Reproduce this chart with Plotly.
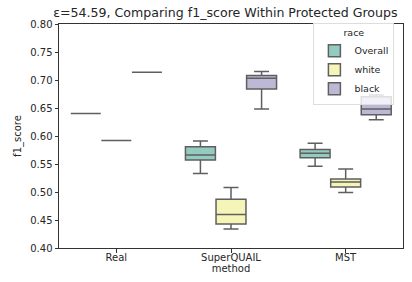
import plotly.graph_objects as go

methods = ["Real", "SuperQUAIL", "MST"]
races = ["Overall", "white", "black"]

# per race: lower whisker, q1, median, q3, upper whisker (per method)
overall_lo = [0.640, 0.533, 0.546]
overall_q1 = [0.640, 0.557, 0.561]
overall_med = [0.640, 0.566, 0.569]
overall_q3 = [0.640, 0.581, 0.576]
overall_hi = [0.640, 0.591, 0.587]

white_lo = [0.592, 0.434, 0.499]
white_q1 = [0.592, 0.443, 0.509]
white_med = [0.592, 0.460, 0.518]
white_q3 = [0.592, 0.487, 0.523]
white_hi = [0.592, 0.508, 0.541]

black_lo = [0.714, 0.648, 0.629]
black_q1 = [0.714, 0.684, 0.638]
black_med = [0.714, 0.703, 0.648]
black_q3 = [0.714, 0.708, 0.670]
black_hi = [0.714, 0.715, 0.673]

colors = ["#94cbc0", "#f6f5b9", "#bdb9d5"]
stats = [
    (overall_lo, overall_q1, overall_med, overall_q3, overall_hi),
    (white_lo, white_q1, white_med, white_q3, white_hi),
    (black_lo, black_q1, black_med, black_q3, black_hi),
]

fig = go.Figure()
for race, col, (lo, q1, med, q3, hi) in zip(races, colors, stats):
    fig.add_trace(go.Box(
        name=race, x=methods, q1=q1, median=med, q3=q3,
        lowerfence=lo, upperfence=hi,
        fillcolor=col, line=dict(color="#5f5f5f", width=1.5),
        whiskerwidth=0.5, boxpoints=False,
    ))

font = "DejaVu Sans, Arial, sans-serif"
fig.update_layout(
    width=412, height=282,
    margin=dict(l=59, r=9, t=24, b=34),
    paper_bgcolor="white", plot_bgcolor="white",
    boxmode="group", boxgap=0.2, boxgroupgap=0.02,
    font=dict(family=font, size=10, color="#262626"),
    title=dict(text="ε=54.59, Comparing f1_score Within Protected Groups",
               x=0.547, xanchor="center", y=0.957, yanchor="middle",
               font=dict(size=12.6, color="#262626")),
    legend=dict(title=dict(text="race", side="top center", font=dict(size=9.5)),
                x=0.975, y=1.005, xanchor="right", yanchor="top",
                bgcolor="rgba(255,255,255,0.8)", bordercolor="#dddddd", borderwidth=1,
                font=dict(size=9.5), tracegroupgap=0, itemwidth=30),
    showlegend=True,
)
fig.update_xaxes(title=dict(text="method", standoff=0, font=dict(size=10)),
                 showline=True, mirror=True, linecolor="#333333", linewidth=1,
                 ticks="outside", ticklen=3.5, tickcolor="#333333",
                 ticklabelstandoff=-4,
                 showgrid=False, zeroline=False)
fig.update_yaxes(title=dict(text="f1_score", standoff=6, font=dict(size=10)),
                 range=[0.40, 0.80], tickvals=[0.40, 0.45, 0.50, 0.55, 0.60, 0.65, 0.70, 0.75, 0.80],
                 ticktext=["0.40", "0.45", "0.50", "0.55", "0.60", "0.65", "0.70", "0.75", "0.80"],
                 showline=True, mirror=True, linecolor="#333333", linewidth=1,
                 ticks="outside", ticklen=3.5, tickcolor="#333333",
                 showgrid=False, zeroline=False)

# remove the browser's default 8px body margin so the figure fills the window
fig.write_html("out.html", config={"displayModeBar": False},
               post_script="document.body.style.margin='0';")
